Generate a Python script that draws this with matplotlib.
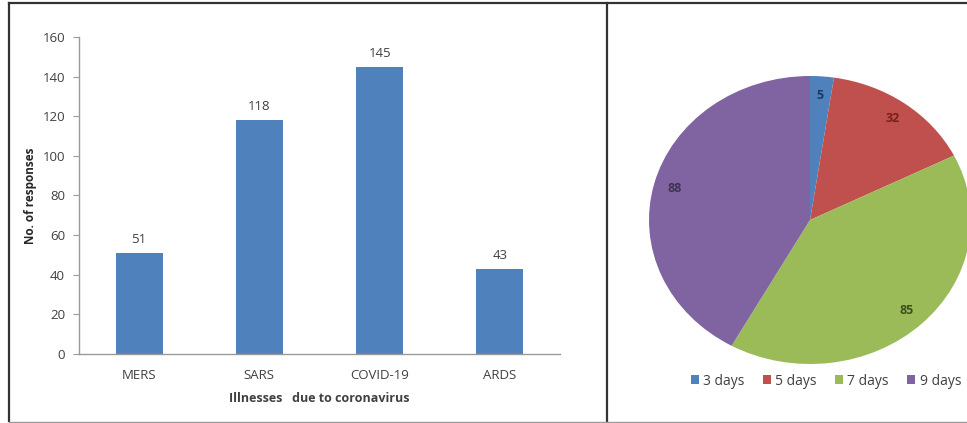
import matplotlib
matplotlib.use("Agg")
import matplotlib.pyplot as plt
from matplotlib.lines import Line2D
from matplotlib.patches import Patch

plt.rcParams['font.family'] = ['Open Sans', 'DejaVu Sans']

# ---- data ----
illnesses = ["MERS", "SARS", "COVID-19", "ARDS"]
responses = [51, 118, 145, 43]
yticks = [0, 20, 40, 60, 80, 100, 120, 140, 160]

durations = ["3 days", "5 days", "7 days", "9 days"]
duration_counts = [5, 32, 85, 88]

bar_color = "#4F81BD"
pie_colors = ["#4F81BD", "#C0504D", "#9BBB59", "#8064A2"]
label_colors = ["#1F3864", "#7B1F1C", "#3E5020", "#3F3151"]

W, H = 967, 423
fig = plt.figure(figsize=(W / 100, H / 100), dpi=100)


def box(x0, y0, x1, y1):
    return [x0 / W, 1 - y1 / H, (x1 - x0) / W, (y1 - y0) / H]


# ---- bar chart ----
ax = fig.add_axes(box(79, 37, 560, 354))
x = range(len(illnesses))
bars = ax.bar(x, responses, width=0.39, color=bar_color)
ax.set_xlim(-0.5, len(illnesses) - 0.5)
ax.set_ylim(0, 160)
ax.set_yticks(yticks)
ax.set_xticks(list(x))
ax.set_xticklabels(illnesses)
for s in ["top", "right"]:
    ax.spines[s].set_visible(False)
for s in ["left", "bottom"]:
    ax.spines[s].set_color("#9a9a9a")
    ax.spines[s].set_linewidth(1.0)
ax.tick_params(axis="y", length=4, color="#9a9a9a", labelsize=9.5, labelcolor="#404040", pad=6)
ax.tick_params(axis="x", length=0, labelsize=9.5, labelcolor="#404040", pad=11)
for b, v in zip(bars, responses):
    ax.annotate(str(v), (b.get_x() + b.get_width() / 2, v), xytext=(0, 5),
                textcoords="offset points", ha="center", va="bottom",
                fontsize=9.5, color="#404040")
ax.set_ylabel("No. of responses", fontsize=8.5, fontweight="bold", color="#262626", labelpad=4)
ax.set_xlabel("Illnesses   due to coronavirus", fontsize=9, fontweight="bold",
              color="#404040", labelpad=7)

# ---- pie chart ----
cx, cy, rx, ry = 810, 220, 161, 144
pax = fig.add_axes(box(607, 3, 967, 421))
total = sum(duration_counts)
wedges, texts, autotexts = pax.pie(
    duration_counts, colors=pie_colors, startangle=90, counterclock=False,
    autopct=lambda p: f"{round(p * total / 100)}", pctdistance=0.87,
    textprops=dict(fontsize=9, fontweight="bold"))
for t, c in zip(autotexts, label_colors):
    t.set_color(c)
pax.set_aspect("auto")
pax.set_xlim(-(cx - 607) / rx, (967 - cx) / rx)
pax.set_ylim(-(421 - cy) / ry, (cy - 3) / ry)
pax.axis("off")
for w in wedges:
    w.set_clip_on(True)
    w.set_clip_path(pax.patch)

handles = [Patch(facecolor=c, edgecolor="none") for c in pie_colors]
fig.legend(handles, durations, ncol=4, loc="center",
           bbox_to_anchor=(826 / W, 1 - 381 / H), frameon=False,
           fontsize=10, handlelength=0.6, handleheight=0.6, handletextpad=0.3,
           columnspacing=1.3, labelcolor="#404040")

# ---- frames ----
def fl(xs, ys, c="#333333", lw=1.6):
    fig.add_artist(Line2D([v / W for v in xs], [1 - v / H for v in ys],
                          color=c, linewidth=lw))

fl([9, 967], [3.5, 3.5])
fl([9, 9], [3.5, 421])
fl([607, 607], [3.5, 421])
fl([9, 967], [421.5, 421.5], c="#9a9a9a", lw=1.0)

fig.savefig("out.png", dpi=100)
